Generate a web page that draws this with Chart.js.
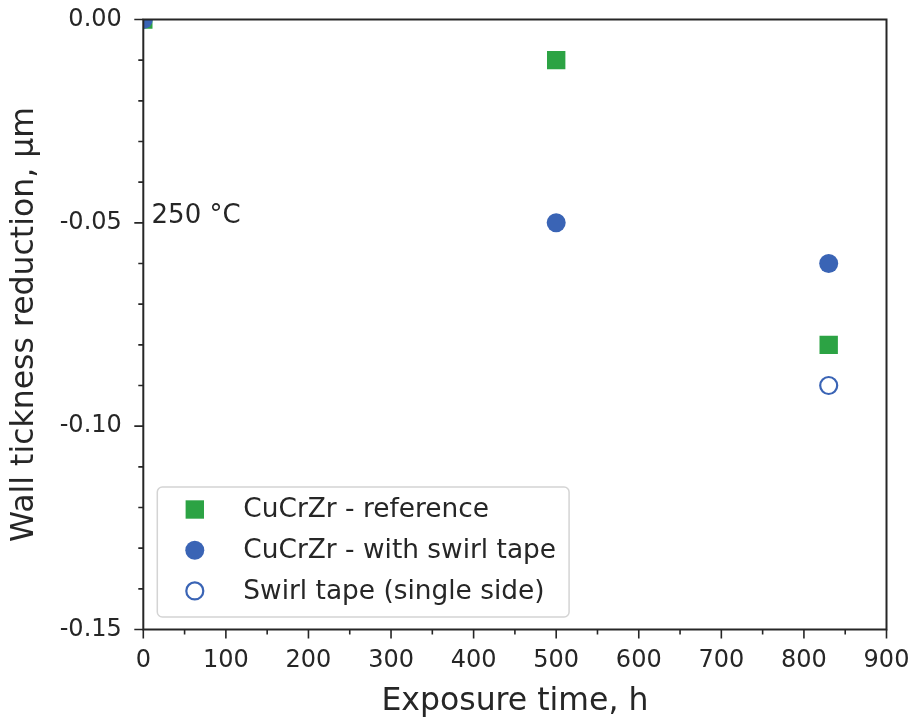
<!DOCTYPE html>
<html>
<head>
<meta charset="utf-8">
<script src="https://cdn.jsdelivr.net/npm/chart.js@4"></script>
<style>body{margin:0;background:#fff}</style>
</head>
<body>
<canvas id="chart" width="917" height="718"></canvas>
<script>
// data
const hoursRef = [0, 500, 830];
const reductionRef = [0, -0.01, -0.08];
const hoursSwirl = [0, 500, 830];
const reductionSwirl = [0, -0.05, -0.06];
const hoursSingle = [830];
const reductionSingle = [-0.09];
const seriesNames = ["CuCrZr - reference", "CuCrZr - with swirl tape", "Swirl tape (single side)"];
const xTickLabels = [0, 100, 200, 300, 400, 500, 600, 700, 800, 900];
const yTickLabels = [0, -0.05, -0.10, -0.15];

const GREEN = "#2ca344";
const BLUE = "#3a64b5";
const INK = "#262626";

Chart.defaults.font.family = "DejaVu Sans";
Chart.defaults.color = INK;

const toPts = (xs, ys) => xs.map((x, i) => ({ x: x, y: ys[i] }));
const isMajor = (v, list) => list.some(t => Math.abs(t - v) < 1e-9);

// frame, tick marks, annotation and legend
const decor = {
  id: "decor",
  afterDatasetsDraw(chart) {
    const { ctx, chartArea: a, scales: { x, y } } = chart;
    ctx.save();
    ctx.strokeStyle = INK;
    ctx.lineWidth = 1.6;
    ctx.beginPath();
    x.ticks.forEach(t => {
      const px = x.getPixelForValue(t.value);
      const len = isMajor(t.value, xTickLabels) ? 9 : 5;
      ctx.moveTo(px, a.bottom);
      ctx.lineTo(px, a.bottom + len);
    });
    y.ticks.forEach(t => {
      const py = y.getPixelForValue(t.value);
      const len = isMajor(t.value, yTickLabels) ? 9 : 5;
      ctx.moveTo(a.left, py);
      ctx.lineTo(a.left - len, py);
    });
    ctx.stroke();
    ctx.lineWidth = 2;
    ctx.strokeRect(a.left, a.top, a.right - a.left, a.bottom - a.top);

    // temperature note
    ctx.fillStyle = INK;
    ctx.font = "26px 'DejaVu Sans'";
    ctx.textBaseline = "alphabetic";
    ctx.textAlign = "left";
    ctx.fillText("250 °C", x.getPixelForValue(10), y.getPixelForValue(-0.05));

    // legend
    ctx.font = "26.4px 'DejaVu Sans'";
    const rowH = 40.7;
    let w = 0;
    seriesNames.forEach(n => { w = Math.max(w, ctx.measureText(n).width); });
    const boxW = 86 + w + 13;
    const boxH = 130;
    const bx = a.left + 14;
    const by = a.bottom - 12.5 - boxH;
    ctx.beginPath();
    ctx.roundRect(bx, by, boxW, boxH, 5);
    ctx.fillStyle = "rgba(255,255,255,0.8)";
    ctx.fill();
    ctx.strokeStyle = "#d4d4d4";
    ctx.lineWidth = 1.5;
    ctx.stroke();
    chart.data.datasets.forEach((ds, i) => {
      const cy = by + 22.5 + i * rowH;
      const cx = bx + 37.5;
      ctx.fillStyle = ds.backgroundColor;
      ctx.strokeStyle = ds.borderColor;
      ctx.lineWidth = ds.borderWidth;
      ctx.beginPath();
      if (ds.pointStyle === "rect") {
        const s = ds.pointRadius * Math.SQRT1_2;
        ctx.rect(cx - s, cy - s, 2 * s, 2 * s);
      } else {
        ctx.arc(cx, cy, ds.pointRadius, 0, Math.PI * 2);
      }
      ctx.fill();
      if (ds.borderWidth) ctx.stroke();
      ctx.fillStyle = INK;
      ctx.textBaseline = "middle";
      ctx.fillText(ds.label, bx + 86, cy + 1);
    });
    ctx.restore();
  }
};

new Chart(document.getElementById("chart"), {
  type: "scatter",
  data: {
    datasets: [
      {
        label: seriesNames[0],
        data: toPts(hoursRef, reductionRef),
        pointStyle: "rect",
        pointRadius: 13,
        backgroundColor: GREEN,
        borderColor: GREEN,
        borderWidth: 0,
        order: 2,
        clip: 0
      },
      {
        label: seriesNames[1],
        data: toPts(hoursSwirl, reductionSwirl),
        pointStyle: "circle",
        pointRadius: 9.5,
        backgroundColor: BLUE,
        borderColor: BLUE,
        borderWidth: 0,
        order: 1,
        clip: 0
      },
      {
        label: seriesNames[2],
        data: toPts(hoursSingle, reductionSingle),
        pointStyle: "circle",
        pointRadius: 8.5,
        backgroundColor: "#ffffff",
        borderColor: BLUE,
        borderWidth: 2.2,
        order: 0,
        clip: 0
      }
    ]
  },
  options: {
    responsive: false,
    animation: false,
    events: [],
    layout: { padding: { left: 0, top: 19.5, right: 30.5, bottom: 0 } },
    plugins: { legend: { display: false }, tooltip: { enabled: false } },
    scales: {
      x: {
        type: "linear",
        min: 0,
        max: 900,
        border: { display: false },
        grid: { display: false, drawTicks: false },
        ticks: {
          stepSize: 50,
          padding: 17,
          font: { size: 24 },
          maxRotation: 0,
          autoSkip: false,
          callback: v => isMajor(v, xTickLabels) ? String(v) : ""
        },
        title: {
          display: true,
          text: "Exposure time, h",
          font: { size: 31.5, lineHeight: 1 },
          padding: { top: 0, bottom: 0 }
        },
        afterFit: s => {
          s.height = 88.5;
          s.paddingLeft = 0;
          s.paddingRight = 0;
        }
      },
      y: {
        type: "linear",
        min: -0.15,
        max: 0,
        border: { display: false },
        grid: { display: false, drawTicks: false },
        ticks: {
          stepSize: 0.01,
          padding: 21.5,
          font: { size: 24 },
          autoSkip: false,
          callback: v => isMajor(v, yTickLabels) ? (Math.abs(v) < 1e-9 ? "0.00" : v.toFixed(2)) : ""
        },
        title: {
          display: true,
          text: "Wall tickness reduction, µm",
          font: { size: 31.5, lineHeight: 1 },
          padding: { top: 9.5, bottom: 0 }
        },
        afterFit: s => {
          s.width = 143.3;
          s.paddingTop = 0;
          s.paddingBottom = 0;
        }
      }
    }
  },
  plugins: [decor]
});
</script>
</body>
</html>
